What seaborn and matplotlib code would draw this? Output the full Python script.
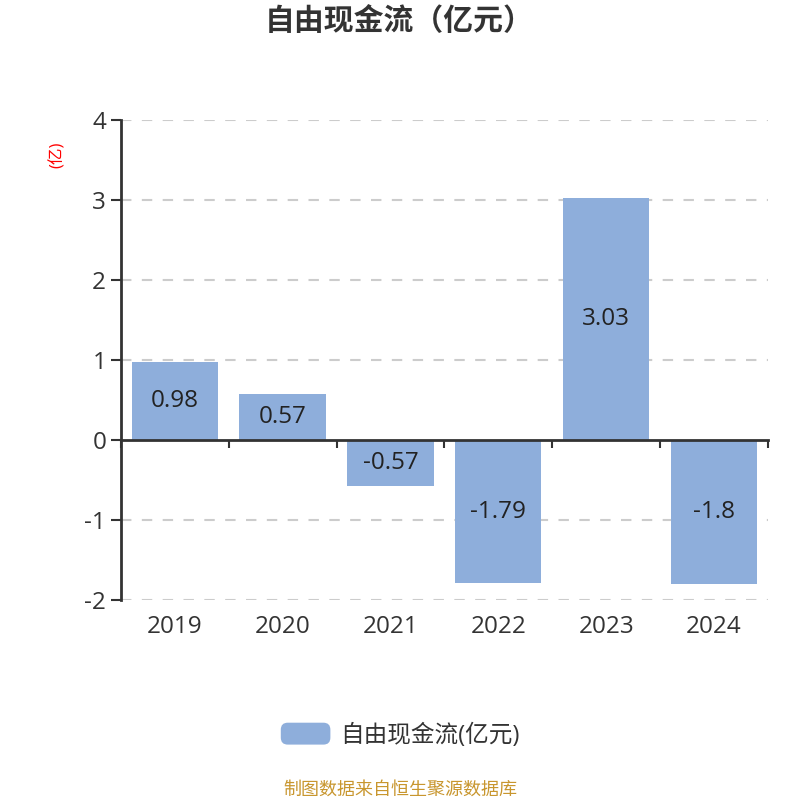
import numpy as np
import matplotlib
matplotlib.use("Agg")
import matplotlib.pyplot as plt
from matplotlib.patches import FancyBboxPatch, Patch
from matplotlib.legend_handler import HandlerPatch
import pandas as pd
import seaborn as sns

# data
years = ["2019", "2020", "2021", "2022", "2023", "2024"]
fcf = [0.98, 0.57, -0.57, -1.79, 3.03, -1.8]
series_name = "自由现金流(亿元)"
title = "自由现金流（亿元）"
unit_label = "(亿)"
source_note = "制图数据来自恒生聚源数据库"

bar_color = "#8eaedb"
axis_color = "#333333"

sns.set_theme(style="white")
plt.rcParams["font.family"] = ["Open Sans", "Noto Sans CJK SC", "DejaVu Sans"]
plt.rcParams["axes.unicode_minus"] = False

df = pd.DataFrame({"year": years, "value": fcf})

fig = plt.figure(figsize=(8, 8), dpi=100)
ax = fig.add_axes([0.151, 0.25, 0.809, 0.60])

sns.barplot(data=df, x="year", y="value", color=bar_color, width=0.8,
            saturation=1, edgecolor="none", ax=ax)

ax.set_ylim(-2, 4)
ax.set_xlim(-0.5, len(years) - 0.5)
ax.set_yticks(range(-2, 5))
ax.set_yticklabels([str(v) for v in range(-2, 5)])

# dashed horizontal grid
for v in range(-2, 5):
    if v != 0:
        ax.axhline(v, color="#cccccc", lw=1.5, ls=(0, (5, 5)), zorder=0)

# spines
for s in ["top", "right"]:
    ax.spines[s].set_visible(False)
ax.spines["left"].set_color(axis_color)
ax.spines["left"].set_linewidth(2)
ax.spines["bottom"].set_position(("data", 0))
ax.spines["bottom"].set_color(axis_color)
ax.spines["bottom"].set_linewidth(2)
ax.spines["bottom"].set_zorder(5)

# x: labels at category centers (pushed below the plot), tick marks at boundaries
ax.set_xticks(np.arange(len(years)))
ax.set_xticks(np.arange(len(years) + 1) - 0.5, minor=True)
ax.tick_params(axis="x", which="major", length=0, pad=126,
               labelsize=17.5, labelcolor=axis_color)
ax.tick_params(axis="x", which="minor", length=6, width=1.5,
               direction="out", color=axis_color, bottom=True)
ax.tick_params(axis="y", length=7, width=1.5, direction="out",
               color=axis_color, labelsize=17.5, labelcolor=axis_color, left=True)
ax.set_xlabel("")
ax.set_ylabel("")

# value labels in the bars
ax.bar_label(ax.containers[0], labels=[f"{v:g}" for v in fcf],
             label_type="center", fontsize=17.5, color="#222222")

# titles and notes
fig.text(0.499, 0.972, title, ha="center", va="center", fontsize=21.5,
         fontweight="bold", color=axis_color)
fig.text(0.0725, 0.806, unit_label, rotation=90, ha="center", va="center",
         fontsize=12, color="red")
fig.text(0.5, 0.0125, source_note, ha="center", va="center", fontsize=13,
         color="#c8962e")


class RoundHandler(HandlerPatch):
    def create_artists(self, legend, orig_handle, xdescent, ydescent,
                       width, height, fontsize, trans):
        p = FancyBboxPatch((-xdescent, -ydescent), width, height,
                           boxstyle="round,pad=0,rounding_size=5",
                           facecolor=bar_color, edgecolor="none",
                           transform=trans)
        return [p]


handle = Patch(facecolor=bar_color, label=series_name)
fig.legend(handles=[handle], loc="center", bbox_to_anchor=(0.5, 0.081),
           frameon=False, fontsize=17, handlelength=2.1, handleheight=1.05,
           handletextpad=0.4, labelcolor=axis_color,
           handler_map={Patch: RoundHandler()})

fig.savefig("out.png", dpi=100)
